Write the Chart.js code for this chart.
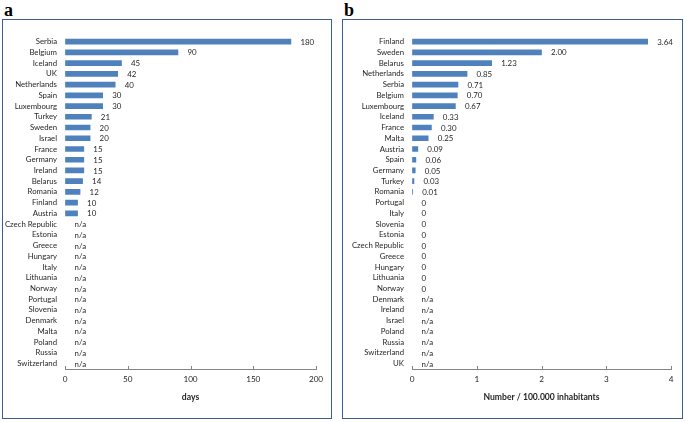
<!DOCTYPE html>
<html><head><meta charset="utf-8">
<script src="https://cdn.jsdelivr.net/npm/chart.js@4"></script>
<style>
body{margin:0;width:685px;height:422px;background:#fff;position:relative;overflow:hidden;font-family:Lato,sans-serif}
.panel{position:absolute;top:19px;height:400px;border:1.5px solid #3b5e95;box-sizing:border-box}
#pa{left:2px;width:330px}
#pb{left:342px;width:341px}
.lab{position:absolute;top:0px;font:bold 18px "Liberation Serif","DejaVu Serif",serif;color:#000}
canvas{position:absolute;top:0}
</style></head>
<body>
<div class="panel" id="pa"></div>
<div class="panel" id="pb"></div>
<div class="lab" style="left:4px">a</div>
<div class="lab" style="left:344px">b</div>
<canvas id="ca" width="336" height="422" style="left:0;width:336px;height:422px"></canvas>
<canvas id="cb" width="347" height="422" style="left:338px;width:347px;height:422px"></canvas>
<script>
// Panel a: duration (days)
const countriesA = ["Serbia","Belgium","Iceland","UK","Netherlands","Spain","Luxembourg","Turkey","Sweden","Israel","France","Germany","Ireland","Belarus","Romania","Finland","Austria","Czech Republic","Estonia","Greece","Hungary","Italy","Lithuania","Norway","Portugal","Slovenia","Denmark","Malta","Poland","Russia","Switzerland"];
const daysA = [180,90,45,42,40,30,30,21,20,20,15,15,15,14,12,10,10,null,null,null,null,null,null,null,null,null,null,null,null,null,null];
const ticksA = [0,50,100,150,200];

// Panel b: number / 100.000 inhabitants
const countriesB = ["Finland","Sweden","Belarus","Netherlands","Serbia","Belgium","Luxembourg","Iceland","France","Malta","Austria","Spain","Germany","Turkey","Romania","Portugal","Italy","Slovenia","Estonia","Czech Republic","Greece","Hungary","Lithuania","Norway","Denmark","Ireland","Israel","Poland","Russia","Switzerland","UK"];
const rateB = [3.64,2.00,1.23,0.85,0.71,0.70,0.67,0.33,0.30,0.25,0.09,0.06,0.05,0.03,0.01,0,0,0,0,0,0,0,0,0,null,null,null,null,null,null,null];
const ticksB = [0,1,2,3,4];

const FONT = "Lato";
const TXT = "#262626";
const BAR = "#4F81BD";

const valueLabels = {
  id: 'valueLabels',
  afterDatasetsDraw(chart, args, opts) {
    const {ctx, scales: {x, y}} = chart;
    const data = chart.data.datasets[0].data;
    ctx.save();
    ctx.font = "7.9px " + FONT;
    ctx.fillStyle = TXT;
    ctx.textAlign = 'left';
    ctx.textBaseline = 'middle';
    data.forEach((v, i) => {
      const px = x.getPixelForValue(v == null ? 0 : v) + 9.5;
      const py = y.getPixelForValue(i);
      ctx.fillText(opts.format(v), px, py + 0.5);
    });
    ctx.restore();
  }
};
const tickMarks = {
  id: 'tickMarks',
  afterDraw(chart) {
    const {ctx, scales: {x}} = chart;
    const yb = chart.chartArea.bottom;
    ctx.save();
    ctx.strokeStyle = '#868686';
    ctx.lineWidth = 1;
    ctx.beginPath();
    x.ticks.forEach((t, i) => {
      const px = Math.round(x.getPixelForTick(i)) + 0.5;
      ctx.moveTo(px, yb);
      ctx.lineTo(px, yb - 3);
    });
    ctx.stroke();
    ctx.restore();
  }
};

function makeChart(id, labels, values, tickVals, max, title, yWidth, padRight, fmt) {
  return new Chart(document.getElementById(id), {
    type: 'bar',
    data: { labels: labels, datasets: [{ data: values, backgroundColor: values.map(v => v === 0 ? 'rgba(0,0,0,0)' : BAR), barThickness: 5 }] },
    options: {
      indexAxis: 'y',
      responsive: false,
      animation: false,
      events: [],
      layout: { padding: { top: 36.3, right: padRight, bottom: 0, left: 0 } },
      plugins: { legend: { display: false }, tooltip: { enabled: false }, valueLabels: { format: fmt } },
      scales: {
        x: {
          min: 0, max: max,
          afterBuildTicks(s) { s.ticks = tickVals.map(v => ({ value: v })); },
          afterFit(s) { s.height = 53; },
          grid: { display: true, drawOnChartArea: false, drawTicks: false },
          border: { display: true, color: '#868686', width: 1 },
          ticks: { padding: 5.8, color: TXT, font: { family: FONT, size: 8.2 }, maxRotation: 0 },
          title: { display: true, text: title, color: TXT, font: { family: FONT, size: 8.6, weight: 'bold' }, padding: { top: 0, bottom: 19.8 } }
        },
        y: {
          afterFit(s) { s.width = yWidth; },
          grid: { display: false, drawTicks: false },
          border: { display: false },
          ticks: { autoSkip: false, padding: 8, color: TXT, font: { family: FONT, size: 7.8 } }
        }
      }
    },
    plugins: [valueLabels, tickMarks]
  });
}

makeChart('ca', countriesA, daysA, ticksA, 200, 'days', 65, 20, v => v == null ? 'n/a' : String(v));
makeChart('cb', countriesB, rateB, ticksB, 4, 'Number / 100.000 inhabitants', 74, 14, v => v == null ? 'n/a' : (v === 0 ? '0' : v.toFixed(2)));
</script>
</body></html>
